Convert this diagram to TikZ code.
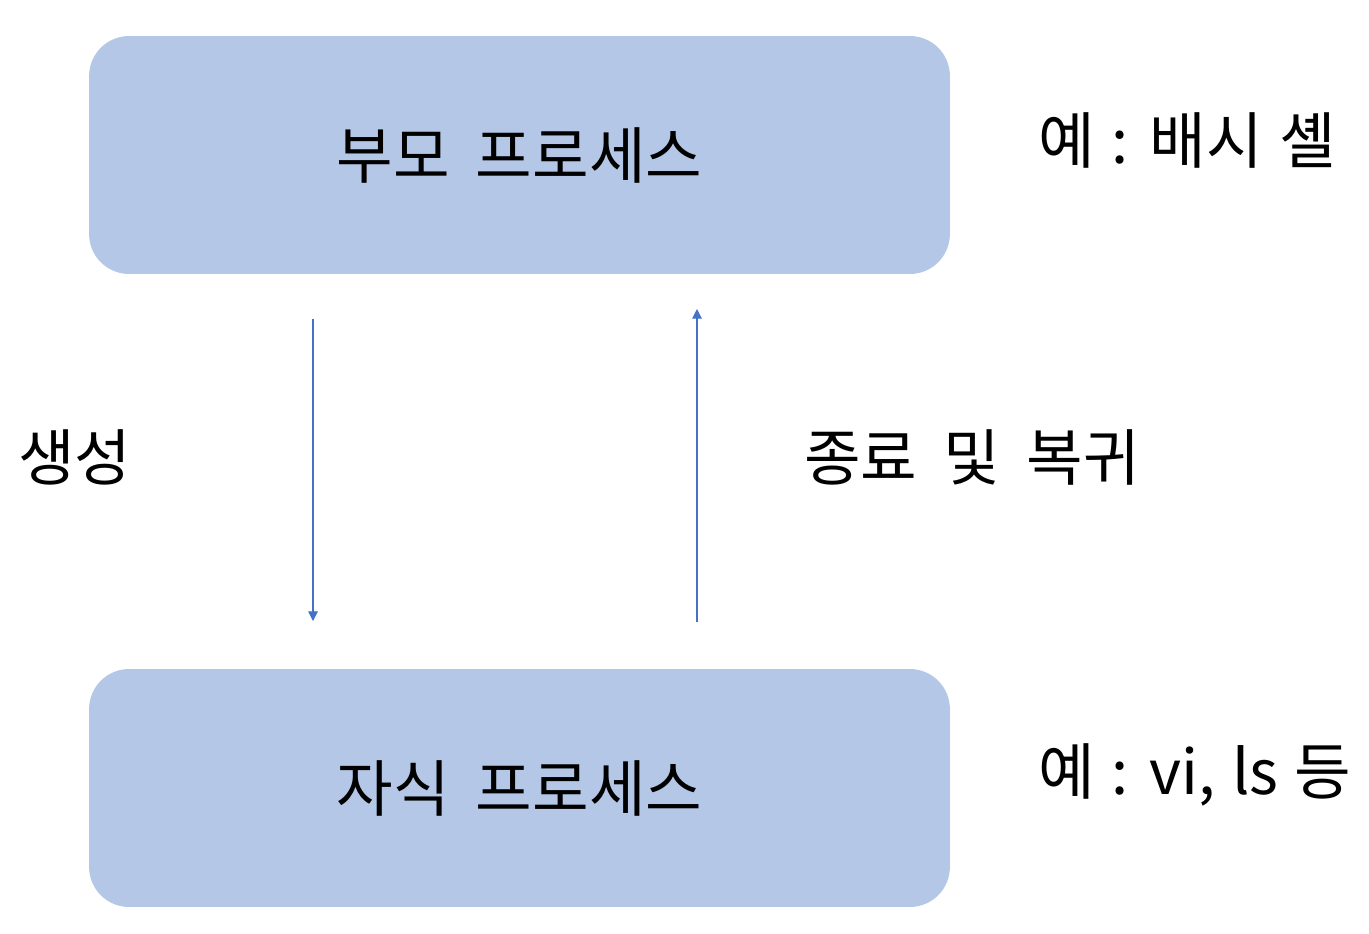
\documentclass[tikz,border=0pt]{standalone}
\usepackage{fontspec}
\setmainfont[WordSpace=1.9]{Noto Sans CJK KR}
\newfontfamily\exfont[WordSpace=1.2]{Noto Sans CJK KR}
\usetikzlibrary{arrows.meta}
\definecolor{boxfill}{HTML}{B4C7E7}
\definecolor{arrowblue}{HTML}{4472C4}
\tikzset{
  procbox/.style={fill=boxfill, draw=none, rounded corners=0.8cm, minimum width=17.22cm, minimum height=4.76cm, inner sep=0pt, font=\fontsize{35}{40}\selectfont},
  lbl/.style={inner sep=0pt, font=\fontsize{35}{40}\selectfont},
  exlbl/.style={inner sep=0pt, font=\exfont\fontsize{35}{40}\selectfont},
  flow/.style={draw=arrowblue, line width=0.6pt, -{Triangle[length=5.5pt,width=5.5pt]}}
}
\begin{document}
\begin{tikzpicture}[x=0.02cm,y=-0.02cm]
\useasboundingbox (0,0) rectangle (1369,933);
\node[procbox] (parent) at (519.5,155) {부모 프로세스};
\node[procbox] (child) at (519.5,788) {자식 프로세스};
\coordinate (d1) at (313,319);
\coordinate (d2) at (313,621);
\coordinate (u1) at (697,622);
\coordinate (u2) at (697,309);
\draw[flow] (d1) -- (d2);
\draw[flow] (u1) -- (u2);
\node[lbl, anchor=west] (create) at (18,457) {생성};
\node[lbl] (ret) at (972,457) {종료 및 복귀};
\node[exlbl, anchor=west] (ex1) at (1038,140) {예 : 배시 셸};
\node[exlbl, anchor=west] (ex2) at (1038,775) {예 : vi, ls 등};
\end{tikzpicture}
\end{document}
